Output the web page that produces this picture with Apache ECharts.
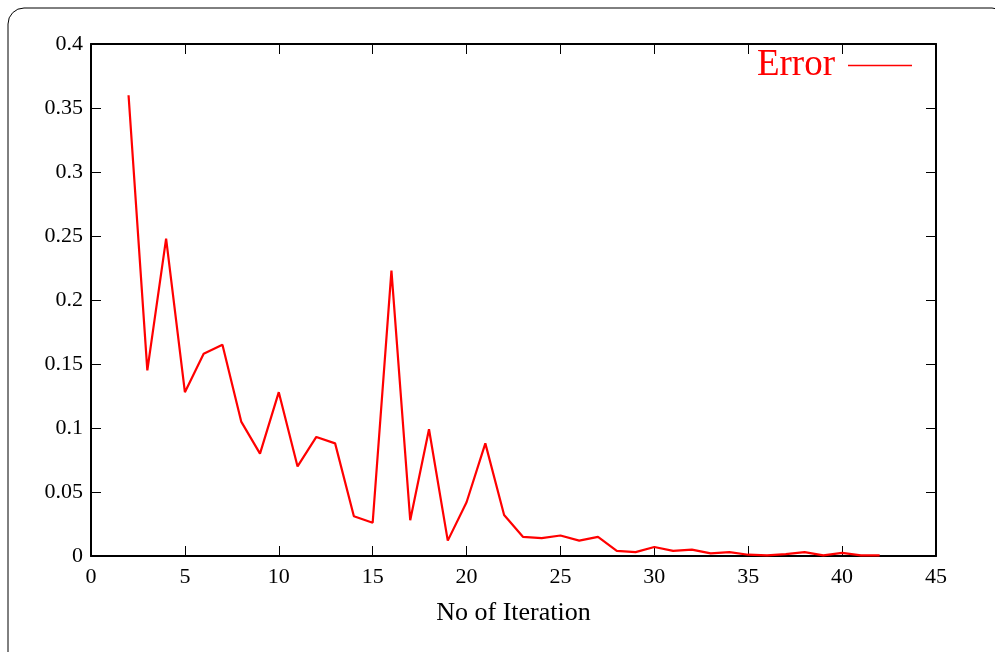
<!DOCTYPE html>
<html><head><meta charset="utf-8">
<script src="https://cdn.jsdelivr.net/npm/echarts@6/dist/echarts.min.js"></script>
<style>html,body{margin:0;padding:0;background:#fff}#c{width:995px;height:652px}</style>
</head><body><div id="c"></div>
<script>
const iterations = [2,3,4,5,6,7,8,9,10,11,12,13,14,15,16,17,18,19,20,21,22,23,24,25,26,27,28,29,30,31,32,33,34,35,36,37,38,39,40,41,42];
const errorValues = [0.36,0.145,0.248,0.128,0.158,0.165,0.105,0.08,0.128,0.07,0.093,0.088,0.031,0.026,0.223,0.028,0.099,0.012,0.042,0.088,0.032,0.015,0.014,0.016,0.012,0.015,0.004,0.003,0.007,0.004,0.005,0.002,0.003,0.001,0.0005,0.0015,0.003,0.0005,0.0025,0.0005,0.0005];
const seriesName = 'Error';
const xAxisTitle = 'No of Iteration';

const font = 'Liberation Serif';
const chart = echarts.init(document.getElementById('c'), null, {renderer:'canvas'});
const axisCommon = {
  axisLine:{show:true,onZero:false,lineStyle:{color:'#000',width:2}},
  axisTick:{show:true,inside:true,length:10,lineStyle:{color:'#000',width:1}},
  splitLine:{show:false}
};
chart.setOption({
  animation:false,
  graphic:[{type:'rect',shape:{x:8,y:8,width:1000,height:660,r:16},style:{fill:'none',stroke:'#000',lineWidth:1}}],
  legend:{show:true,right:83,top:47,padding:0,align:'right',icon:'rect',itemWidth:64,itemHeight:1.5,itemGap:0,
    textStyle:{color:'#ff0000',fontFamily:font,fontSize:37,padding:[0,8,0,0]},
    data:[{name:seriesName}]},
  grid:{left:91,right:59,top:44,bottom:96,containLabel:false},
  xAxis:[
    Object.assign({type:'value',min:0,max:45,interval:5,position:'bottom',
      name:xAxisTitle,nameLocation:'middle',nameGap:44,
      nameTextStyle:{fontFamily:font,fontSize:26,color:'#000'},
      axisLabel:{fontFamily:font,fontSize:22,color:'#000',margin:10}},axisCommon),
    Object.assign({type:'value',min:0,max:45,interval:5,position:'top',axisLabel:{show:false}},axisCommon)
  ],
  yAxis:[
    Object.assign({type:'value',min:0,max:0.4,interval:0.05,position:'left',
      axisLabel:{fontFamily:font,fontSize:22,color:'#000',margin:8,formatter:v=>String(+v.toFixed(2))}},axisCommon),
    Object.assign({type:'value',min:0,max:0.4,interval:0.05,position:'right',axisLabel:{show:false}},axisCommon)
  ],
  series:[{name:seriesName,type:'line',symbol:'none',color:'#ff0000',
    lineStyle:{color:'#ff0000',width:2.2},
    data:iterations.map((x,i)=>[x,errorValues[i]])}]
});
</script></body></html>
